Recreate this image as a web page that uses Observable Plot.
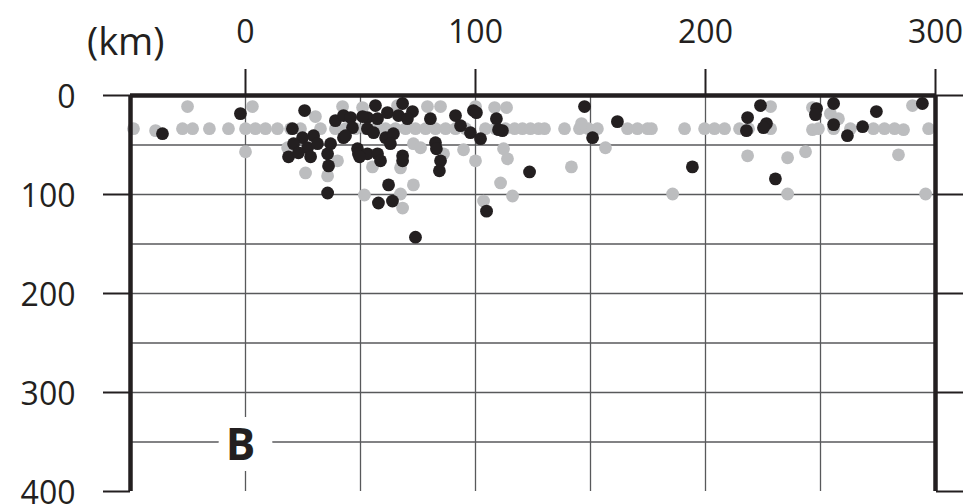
<!DOCTYPE html>
<html>
<head>
<meta charset="utf-8">
<script src="https://cdn.jsdelivr.net/npm/d3@7"></script>
<script src="https://cdn.jsdelivr.net/npm/@observablehq/plot@0.6"></script>
<style>
  html, body { margin: 0; padding: 0; background: #ffffff; }
  #chart svg { display: block; }
</style>
</head>
<body>
<div id="chart"></div>
<script>
// Tick labels
const xTicks = [0, 100, 200, 300];
const yTicks = [0, 100, 200, 300, 400];
const xGrid = [0, 50, 100, 150, 200, 250];
const yGrid = [50, 100, 150, 200, 250, 300, 350];
const unitLabel = "(km)";
const panelLabel = "B";

// Gray events: [distance km, depth km]
const grayEvents = [
  [-48.7, 33.5], [-39.1, 35.5], [-27.4, 33.5], [-23.0, 33.5], [-15.7, 33.5], [-7.4, 33.5],
  [0, 33.5], [4.3, 33.5], [8.7, 33.5], [13.9, 33.5], [19.6, 33.5], [23.9, 33.5], [32.6, 33.5],
  [39.1, 33.5], [43.5, 33.5], [47.8, 33.5], [52.2, 33.5], [56.5, 33.5], [60.9, 33.5],
  [65.2, 33.5], [69.6, 33.5], [73.9, 33.5], [78.3, 33.5], [82.6, 33.5], [87.0, 33.5],
  [91.3, 33.5], [95.7, 33.5], [104.3, 33.5], [108.7, 33.5], [113.0, 33.5], [117.0, 33.5],
  [120.4, 33.5], [123.9, 33.5], [127.4, 33.5], [130.0, 33.5], [138.7, 33.5], [145.2, 33.5],
  [149.1, 33.5], [153.0, 33.5], [166.1, 33.5], [170.4, 33.5], [174.8, 33.5], [176.5, 33.5],
  [190.9, 33.5], [199.6, 33.5], [203.9, 33.5], [208.3, 33.5], [214.8, 33.5], [218.7, 33.5],
  [228.3, 33.5], [246.5, 34.5], [249.1, 33.5], [255.7, 33.5], [263.0, 33.5], [273.0, 33.5],
  [277.8, 33.5], [282.2, 33.5], [286.1, 34.5], [297.0, 33.5],
  [-25.2, 11.2], [3.0, 11.2], [42.2, 11.2], [50.9, 12.2], [66.1, 10.2], [79.1, 11.2],
  [84.8, 11.2], [100.0, 11.2], [108.3, 12.2], [113.5, 12.2], [228.3, 11.2], [246.5, 12.2],
  [290.0, 10.2], [254.3, 18.3], [257.8, 23.4], [146.1, 28.4], [30.4, 21.3],
  [0, 56.8], [18.3, 52.8], [26.1, 78.2], [35.7, 81.2], [40.0, 66.0], [51.7, 100.5],
  [55.2, 72.1], [67.4, 73.1], [73.0, 90.3], [67.4, 99.5], [68.3, 113.7], [73.0, 48.7],
  [76.1, 52.8], [86.1, 58.9], [94.8, 54.8], [100.0, 66.0], [103.5, 106.6], [112.2, 53.8],
  [113.9, 63.9], [110.9, 88.3], [116.1, 101.5], [141.7, 72.1], [156.5, 52.8], [185.7, 99.5],
  [218.3, 60.9], [235.7, 62.9], [243.5, 56.8], [283.9, 59.9], [235.7, 99.5], [295.7, 99.5]
];

// Black events: [distance km, depth km]
const blackEvents = [
  [-36.1, 38.6], [-2.2, 18.3], [25.7, 15.2], [20.4, 33.5], [24.8, 42.6], [20.9, 48.7],
  [29.6, 40.6], [27.0, 52.8], [31.3, 48.7], [18.7, 61.9], [23.0, 57.9], [28.3, 61.9],
  [37.0, 48.7], [35.7, 58.9], [36.1, 71.1], [35.7, 98.5], [39.1, 25.4], [42.6, 20.3],
  [45.7, 22.3], [42.6, 42.6], [46.5, 32.5], [56.5, 10.2], [53.0, 22.3], [57.4, 23.4],
  [61.7, 17.3], [53.0, 33.5], [55.7, 37.6], [60.9, 42.6], [64.3, 38.6], [63.0, 48.7],
  [48.7, 53.8], [49.1, 58.9], [53.0, 58.9], [57.4, 58.9], [58.7, 66.0], [68.3, 60.9],
  [68.3, 66.0], [68.3, 8.1], [66.5, 20.3], [72.6, 16.2], [70.4, 23.4], [80.4, 23.4],
  [82.6, 47.7], [83.0, 53.8], [84.8, 66.0], [84.3, 76.1], [62.2, 90.3], [57.8, 108.6],
  [63.9, 106.6], [73.9, 143.1], [91.3, 20.3], [93.5, 30.5], [97.8, 37.6], [102.2, 43.6],
  [99.1, 15.2], [100.4, 17.3], [104.8, 116.8], [109.1, 23.4], [111.7, 35.5], [110.0, 34.5],
  [123.5, 77.2], [147.4, 11.2], [150.9, 42.6], [161.7, 26.4], [194.3, 72.1], [223.9, 10.2],
  [218.3, 22.3], [217.8, 35.5], [226.5, 28.4], [225.2, 32.5], [230.4, 84.2], [248.3, 13.2],
  [247.8, 19.3], [255.7, 8.1], [255.7, 29.4], [261.7, 40.6], [268.3, 31.5], [274.3, 16.2],
  [294.3, 8.1], [50.9, 21.3], [43.5, 40.6], [49.6, 61.9]
];

const ink = "#231f20";
const font = "'Open Sans', 'Noto Sans', sans-serif";
const chart = Plot.plot({
  width: 968,
  height: 504,
  marginTop: 95,
  marginBottom: 13,
  marginLeft: 130,
  marginRight: 33,
  style: { fontFamily: font, color: ink, background: "#ffffff" },
  x: { domain: [-50, 300], axis: null },
  y: { domain: [0, 400], reverse: true, axis: null },
  marks: [
    Plot.ruleX(xGrid, { stroke: "#58595b", strokeWidth: 1.3 }),
    Plot.ruleY(yGrid, { stroke: "#58595b", strokeWidth: 1.3 }),
    Plot.dot(grayEvents, { x: d => d[0], y: d => d[1], r: 6.4, fill: "#bcbdbf", stroke: "none" }),
    Plot.dot(blackEvents, { x: d => d[0], y: d => d[1], r: 6.4, fill: ink, stroke: "none" }),
    Plot.dot([panelLabel], { x: () => 0, y: () => 352, r: 27, fill: "#ffffff", stroke: "none" }),
    Plot.text([panelLabel], { x: () => 0, y: () => 352, text: d => d, fontSize: 44, fontWeight: "bold", fill: ink, dx: -5, dy: 2 }),
    Plot.ruleY([0], { stroke: ink, strokeWidth: 4.5 }),
    Plot.ruleX([-50, 300], { stroke: ink, strokeWidth: 4.5 }),
    // tick marks
    Plot.axisX(xTicks, { anchor: "top", tickSize: 27, tickFormat: () => "", strokeWidth: 2, label: null }),
    Plot.axisY(yTicks, { anchor: "left", tickSize: 27, tickFormat: () => "", strokeWidth: 2, label: null }),
    Plot.axisY(yTicks, { anchor: "right", tickSize: 27, tickFormat: () => "", strokeWidth: 2, label: null }),
    // tick labels
    Plot.text(xTicks, { x: d => d, frameAnchor: "top", text: d => String(d), fontSize: 32, lineAnchor: "middle", dy: -63, fill: ink }),
    Plot.text(yTicks, { y: d => d, frameAnchor: "left", text: d => String(d), fontSize: 32, textAnchor: "end", lineAnchor: "middle", dx: -55, dy: 2, fill: ink }),
    Plot.text([unitLabel], { frameAnchor: "top-left", text: d => d, fontSize: 38, textAnchor: "end", dx: 34, dy: -53, lineAnchor: "middle", fill: ink })
  ]
});
document.getElementById("chart").appendChild(chart);
</script>
</body>
</html>
